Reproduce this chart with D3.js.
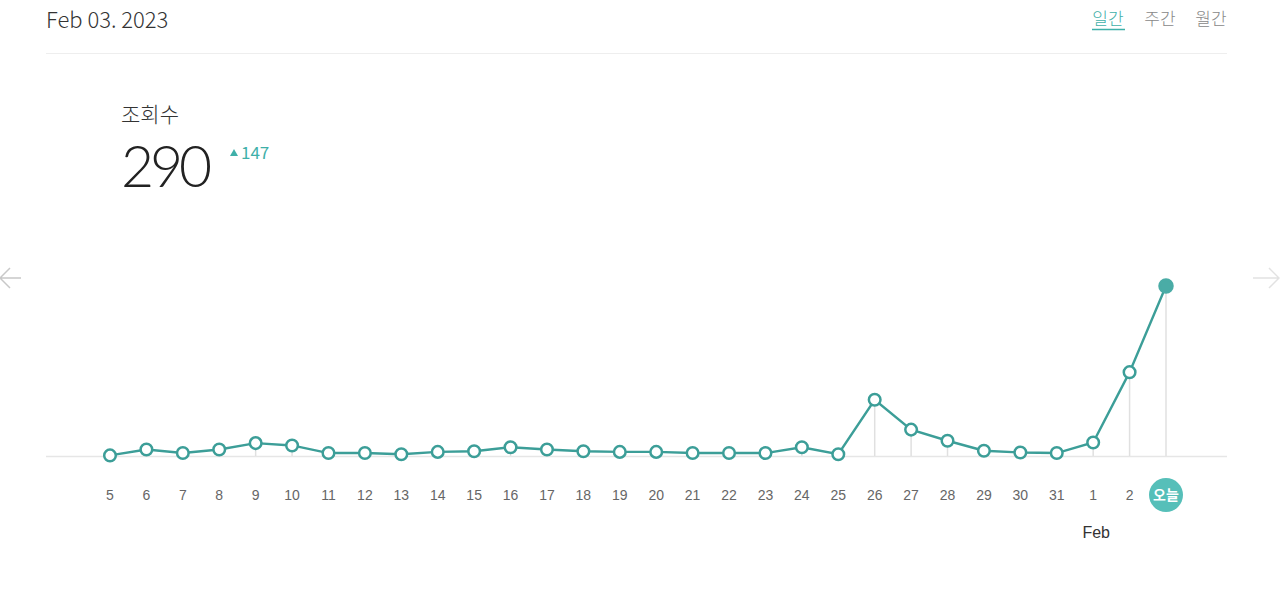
<!DOCTYPE html>
<html><head><meta charset="utf-8">
<script src="https://cdn.jsdelivr.net/npm/d3@7"></script>
<style>
body{margin:0;background:#fff;}
svg{display:block;font-family:"Noto Sans CJK KR","Noto Sans",sans-serif;}
</style></head>
<body><svg id="c" width="1280" height="602"></svg>
<script>
const labels = ["5","6","7","8","9","10","11","12","13","14","15","16","17","18","19","20","21","22","23","24","25","26","27","28","29","30","31","1","2","오늘"];
const views = [1,11,5,11,22,18,5,5,3,7,8,15,11,8,7,7,5,5,5,15,3,96,45,26,9,6,5,23,143,290];
const tabs = ["일간","주간","월간"];
const dateTitle = "Feb 03. 2023";
const metricName = "조회수";
const metricValue = 290;
const metricDelta = 147;
const monthLabel = "Feb";

const svg = d3.select("#c");
const teal = "#3c9e98";

// header
svg.append("text").attr("x",46).attr("y",28).attr("font-size",22).attr("font-weight",300).attr("fill","#333").text(dateTitle);
svg.append("line").attr("x1",46).attr("x2",1227).attr("y1",53.5).attr("y2",53.5).attr("stroke","#eeeeee");
const tabX = [1108,1160,1211];
tabs.forEach((t,i)=>{
  svg.append("text").attr("x",tabX[i]).attr("y",25).attr("text-anchor","middle").attr("font-size",17).attr("font-weight",300)
    .attr("fill", i===0 ? "#3fb0a9" : "#888").text(t);
});
svg.append("line").attr("x1",1092).attr("x2",1125).attr("y1",29.5).attr("y2",29.5).attr("stroke","#3fb0a9").attr("stroke-width",1.5);

// metric
svg.append("text").attr("x",121).attr("y",122).attr("font-size",21).attr("font-weight",300).attr("fill","#333").text(metricName);
svg.append("text").attr("x",121).attr("y",187).attr("font-size",57).attr("font-weight",300).attr("letter-spacing",-4)
  .attr("font-family","Lato,'Noto Sans',sans-serif").attr("fill","#222").text(metricValue);
svg.append("path").attr("d","M230,156 L234,149 L238,156 Z").attr("fill","#3fb0a9");
svg.append("text").attr("x",241).attr("y",159).attr("font-size",17).attr("fill","#3fb0a9").text(metricDelta);

// arrows
const ag = svg.append("g").attr("stroke","#c8c8c8").attr("stroke-width",1.5).attr("fill","none");
ag.append("path").attr("d","M0,278 L21,278 M10,268 L0,278 L10,288");
ag.append("path").attr("d","M1253,278 L1279,278 M1269,268 L1279,278 L1269,288").attr("stroke","#e2e2e2");

// scales
const x = d3.scalePoint().domain(d3.range(labels.length)).range([110,1166]);
const y = d3.scaleLinear().domain([0,290]).range([456,286]);

// baseline
svg.append("line").attr("x1",46).attr("x2",1227).attr("y1",456.5).attr("y2",456.5).attr("stroke","#e6e6e6").attr("stroke-width",1.5);

// drop lines
svg.append("g").selectAll("line").data(views).join("line")
  .attr("x1",(d,i)=>x(i)).attr("x2",(d,i)=>x(i))
  .attr("y1",d=>y(d)).attr("y2",456)
  .attr("stroke","#e0e0e0").attr("stroke-width",1.5);

// line
svg.append("path").datum(views)
  .attr("d", d3.line().x((d,i)=>x(i)).y(d=>y(d)))
  .attr("fill","none").attr("stroke",teal).attr("stroke-width",2.4);

// points
svg.append("g").selectAll("circle").data(views).join("circle")
  .attr("cx",(d,i)=>x(i)).attr("cy",d=>y(d))
  .attr("r",(d,i)=> i===views.length-1 ? 6.5 : 5.8)
  .attr("fill",(d,i)=> i===views.length-1 ? "#4aaca6" : "#fff")
  .attr("stroke",(d,i)=> i===views.length-1 ? "#4aaca6" : teal)
  .attr("stroke-width",2.5);

// x labels
const lg = svg.append("g");
labels.forEach((l,i)=>{
  if(i===labels.length-1){
    lg.append("circle").attr("cx",x(i)).attr("cy",495).attr("r",17).attr("fill","#56bfb9");
    lg.append("text").attr("x",x(i)).attr("y",500).attr("text-anchor","middle").attr("font-size",14).attr("font-weight",700).attr("fill","#fff").text(l);
  } else {
    lg.append("text").attr("x",x(i)).attr("y",500).attr("text-anchor","middle").attr("font-size",14)
      .attr("font-family","'Liberation Sans',Arial,sans-serif").attr("fill","#666").text(l);
  }
});
svg.append("text").attr("x",x(27)+3).attr("y",538).attr("text-anchor","middle").attr("font-size",16).attr("fill","#333")
  .attr("font-family","'Liberation Sans',Arial,sans-serif").text(monthLabel);
</script></body></html>
